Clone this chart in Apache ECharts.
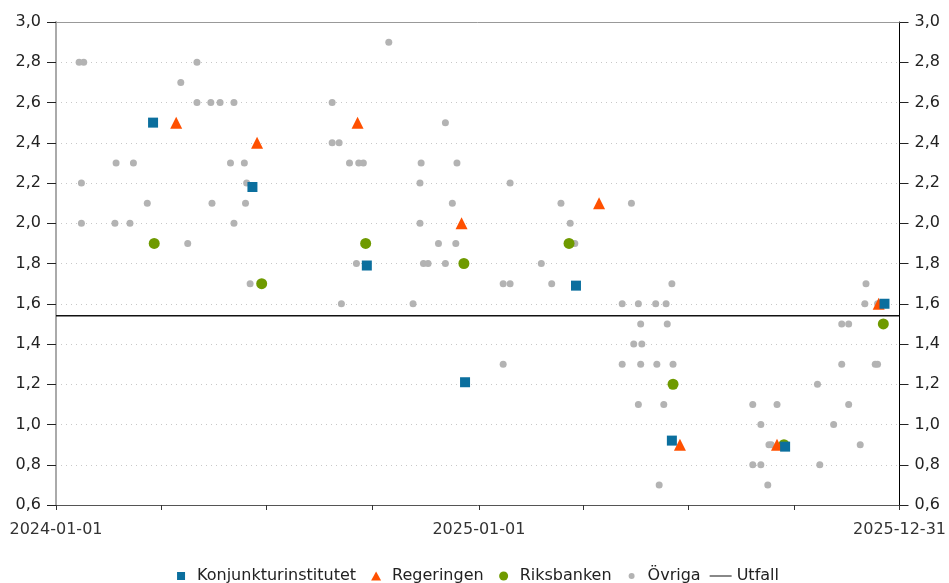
<!DOCTYPE html>
<html>
<head>
<meta charset="utf-8">
<script src="https://cdn.jsdelivr.net/npm/echarts@6/dist/echarts.min.js"></script>
<style>
  html, body { margin: 0; padding: 0; background: #fff; }
  #chart { width: 949px; height: 583px; }
</style>
</head>
<body>
<div id="chart"></div>
<script>
// Prognoser och utfall
const xMin = '2024-01-01'
const xMax = '2025-12-31'
const xTicks = ['2024-01-01', '2024-04-01', '2024-07-01', '2024-10-01', '2025-01-01',
  '2025-04-01', '2025-07-01', '2025-10-01', '2025-12-31']
const xLabels = ['2024-01-01', '2025-01-01', '2025-12-31']

const kiDates = ['2024-03-25', '2024-06-19', '2024-09-26', '2024-12-20',
  '2025-03-26', '2025-06-17', '2025-09-23', '2025-12-18']
const kiValues = [2.5, 2.18, 1.79, 1.21, 1.69, 0.92, 0.89, 1.6]

const regDates = ['2024-04-14', '2024-06-23', '2024-09-18', '2024-12-17',
  '2025-04-15', '2025-06-24', '2025-09-16', '2025-12-13']
const regValues = [2.5, 2.4, 2.5, 2.0, 2.1, 0.9, 0.9, 1.6]

const rbDates = ['2024-03-26', '2024-06-27', '2024-09-25', '2024-12-19',
  '2025-03-20', '2025-06-18', '2025-09-22', '2025-12-17']
const rbValues = [1.9, 1.7, 1.9, 1.8, 1.9, 1.2, 0.9, 1.5]

const ovrDates = [
  '2024-01-21', '2024-01-25', '2024-01-23', '2024-01-23', '2024-02-22', '2024-03-08',
  '2024-02-21', '2024-03-05', '2024-03-20', '2024-04-18', '2024-04-24', '2024-05-02',
  '2024-05-02', '2024-05-14', '2024-05-22', '2024-06-03', '2024-05-15', '2024-05-31',
  '2024-06-12', '2024-06-03', '2024-06-14', '2024-06-13', '2024-06-17', '2024-08-27',
  '2024-08-27', '2024-09-02', '2024-09-11', '2024-09-19', '2024-09-23', '2024-09-17',
  '2024-09-04', '2024-10-15', '2024-11-05', '2024-11-11', '2024-11-12', '2024-11-11',
  '2024-11-14', '2024-11-18', '2024-11-27', '2024-12-03', '2024-12-03', '2024-12-09',
  '2024-12-12', '2024-12-13',
  '2025-01-22', '2025-01-28', '2025-01-22', '2025-01-28', '2025-02-24', '2025-03-05',
  '2025-03-13', '2025-03-21', '2025-03-25', '2025-05-05', '2025-05-05', '2025-05-13',
  '2025-05-15', '2025-05-19', '2025-05-19', '2025-05-21', '2025-05-21', '2025-05-22',
  '2025-06-03', '2025-06-04', '2025-06-06', '2025-06-10', '2025-06-12', '2025-06-13',
  '2025-06-17', '2025-06-18', '2025-08-26', '2025-08-26', '2025-09-02', '2025-09-02',
  '2025-09-08', '2025-09-09', '2025-09-11', '2025-09-16', '2025-10-21', '2025-10-23',
  '2025-11-04', '2025-11-11', '2025-11-11', '2025-11-17', '2025-11-17', '2025-11-27',
  '2025-12-01', '2025-12-02', '2025-12-10', '2025-12-12', '2025-12-12'
]
const ovrValues = [
  2.8, 2.8, 2.2, 2.0, 2.3, 2.3,
  2.0, 2.0, 2.1, 2.7, 1.9, 2.8,
  2.6, 2.6, 2.6, 2.6, 2.1, 2.3,
  2.3, 2.0, 2.2, 2.1, 1.7, 2.6,
  2.4, 2.4, 2.3, 2.3, 2.3, 1.8,
  1.6, 2.9, 1.6, 2.2, 2.3, 2.0,
  1.8, 1.8, 1.9, 2.5, 1.8, 2.1,
  1.9, 2.3,
  1.7, 1.7, 1.3, 2.2, 1.8, 1.7,
  2.1, 2.0, 1.9, 1.6, 1.3, 2.1,
  1.4, 1.6, 1.1, 1.5, 1.3, 1.4,
  1.6, 1.3, 0.7, 1.1, 1.6, 1.5,
  1.7, 1.3, 1.1, 0.8, 1.0, 0.8,
  0.7, 0.9, 0.9, 1.1, 1.2, 0.8,
  1.0, 1.3, 1.5, 1.5, 1.1, 0.9,
  1.6, 1.7, 1.3, 1.3, 1.6
]

const utfallDates = ['2024-01-01', '2025-12-31']
const utfallValues = [1.54, 1.54]

const ts = s => echarts.number.parseDate(s).getTime()
const pairs = (d, v) => d.map((x, i) => [ts(x), v[i]])

let myChart = echarts.init(document.getElementById('chart'))
const font = "'DejaVu Sans', Verdana, sans-serif"
const yFmt = v => v.toFixed(1).replace('.', ',')
const dFmt = v => {
  const d = new Date(v)
  const p = n => String(n).padStart(2, '0')
  return d.getFullYear() + '-' + p(d.getMonth() + 1) + '-' + p(d.getDate())
}

// legend icons drawn in a 22x10 box (the M points only fix the box size)
const box = 'path://M0,0M22,10'
const icons = {
  square: box + 'M7,1h8v8h-8z',
  triangle: box + 'M11,0.5L16,9.5H6z',
  circle: box + 'M6.5,5a4.5,4.5 0 1,0 9,0a4.5,4.5 0 1,0 -9,0z',
  dot: box + 'M8,5a3,3 0 1,0 6,0a3,3 0 1,0 -6,0z',
  line: box + 'M0,4.3h22v1.4h-22z'
}

myChart.setOption({
  animation: false,
  textStyle: { fontFamily: font },
  grid: { left: 56, right: 48, top: 22, bottom: 78 },
  legend: {
    bottom: -6,
    left: 'center',
    itemWidth: 22,
    itemHeight: 10,
    itemGap: 9,
    textStyle: { fontSize: 16, color: '#222', fontFamily: font },
    data: [
      { name: 'Konjunkturinstitutet', icon: icons.square },
      { name: 'Regeringen', icon: icons.triangle },
      { name: 'Riksbanken', icon: icons.circle },
      { name: 'Övriga', icon: icons.dot },
      { name: 'Utfall', icon: icons.line, itemStyle: { color: '#555' } }
    ]
  },
  xAxis: [
    {
      type: 'value',
      min: ts(xMin),
      max: ts(xMax),
      axisLine: { lineStyle: { color: '#555', width: 1 } },
      axisTick: {
        show: true,
        length: 5,
        customValues: xTicks.map(ts),
        lineStyle: { color: '#333' }
      },
      axisLabel: {
        customValues: xLabels.map(ts),
        fontSize: 16,
        color: '#333',
        margin: 17,
        formatter: dFmt
      },
      splitLine: { show: false }
    },
    {
      type: 'value',
      position: 'top',
      min: ts(xMin),
      max: ts(xMax),
      axisLine: { show: true, lineStyle: { color: '#999', width: 1 } },
      axisTick: { show: false },
      axisLabel: { show: false },
      splitLine: { show: false }
    }
  ],
  yAxis: [
    {
      type: 'value',
      position: 'left',
      min: 0.6,
      max: 3.0,
      interval: 0.2,
      axisLine: { show: true, lineStyle: { color: '#aaa', width: 2 } },
      axisTick: { show: true, length: 9, lineStyle: { color: '#222' } },
      axisLabel: { fontSize: 16, color: '#222', margin: 15, formatter: yFmt },
      splitLine: { show: true, lineStyle: { color: '#c8c8c8', type: [1, 4] } }
    },
    {
      type: 'value',
      position: 'right',
      min: 0.6,
      max: 3.0,
      interval: 0.2,
      axisLine: { show: true, lineStyle: { color: '#000', width: 1 } },
      axisTick: { show: true, length: 9, lineStyle: { color: '#222' } },
      axisLabel: { fontSize: 16, color: '#222', margin: 15, formatter: yFmt },
      splitLine: { show: false }
    }
  ],
  series: [
    {
      name: 'Utfall',
      type: 'line',
      data: pairs(utfallDates, utfallValues),
      showSymbol: false,
      symbol: 'none',
      lineStyle: { color: '#111', width: 1.5 },
      itemStyle: { color: '#555' },
      z: 1
    },
    {
      name: 'Övriga',
      type: 'scatter',
      data: pairs(ovrDates, ovrValues),
      symbol: 'circle',
      symbolSize: 7,
      itemStyle: { color: '#b3b3b3', opacity: 1 },
      z: 2
    },
    {
      name: 'Riksbanken',
      type: 'scatter',
      data: pairs(rbDates, rbValues),
      symbol: 'circle',
      symbolSize: 11,
      itemStyle: { color: '#6f9a00', opacity: 1 },
      z: 3
    },
    {
      name: 'Regeringen',
      type: 'scatter',
      data: pairs(regDates, regValues),
      symbol: 'triangle',
      symbolSize: 12,
      itemStyle: { color: '#ff5000', opacity: 1 },
      z: 4
    },
    {
      name: 'Konjunkturinstitutet',
      type: 'scatter',
      data: pairs(kiDates, kiValues),
      symbol: 'rect',
      symbolSize: 10,
      itemStyle: { color: '#0b6f9e', opacity: 1 },
      z: 5
    }
  ]
})
</script>
</body>
</html>
